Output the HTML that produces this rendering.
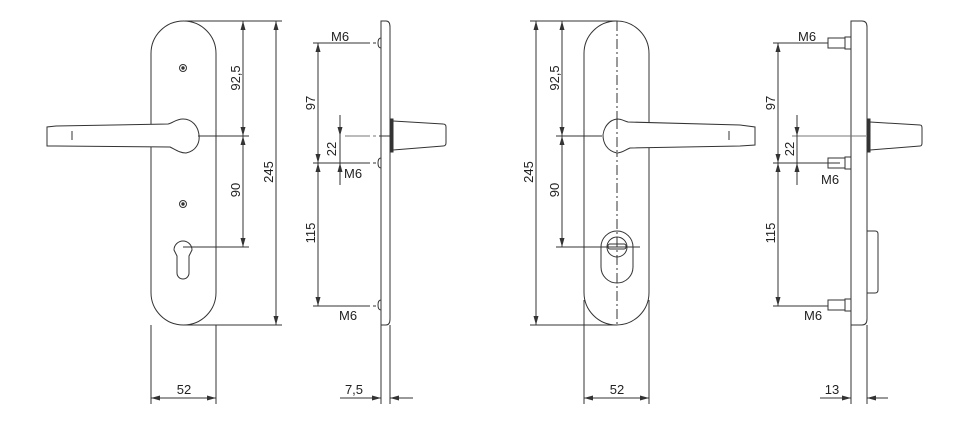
<!DOCTYPE html>
<html><head><meta charset="utf-8"><style>
html,body{margin:0;padding:0;background:#fff;}
svg{display:block;}
text{font-family:"Liberation Sans",sans-serif;font-size:13px;fill:#222;}
</style></head><body>
<svg width="976" height="432" viewBox="0 0 976 432" xmlns="http://www.w3.org/2000/svg">
<defs>
<marker id="a" markerWidth="9" markerHeight="6" refX="9" refY="3" orient="auto" markerUnits="userSpaceOnUse">
<path d="M0,0.5 L9,3 L0,5.5 z" fill="#333"/></marker>
</defs>
<g stroke="#333" stroke-width="1" fill="none">
<!-- ===== Drawing 1 front ===== -->
<path d="M151,53.5 A32.5,32.5 0 0 1 216,53.5 L216,292.5 A32.5,32.5 0 0 1 151,292.5 Z"/>
<circle cx="183" cy="68" r="3.5"/><circle cx="183" cy="68" r="1.2" fill="#333"/>
<circle cx="183" cy="204" r="3.5"/><circle cx="183" cy="204" r="1.2" fill="#333"/>
<path d="M174,250 A9,9 0 1 1 192,250 L189,256 L189,273 A6,6 0 0 1 177,273 L177,256 Z"/>
<!-- handle -->
<path d="M47,127 L47,146 L56,146 L170,147 C176,150 180,153 186,153 C196,151 200,143 199,135 C198,126 192,119 183,119 C176,119 173,123 168,124 L56,126 Z" fill="#fff"/>
<line x1="72" y1="131" x2="72" y2="140"/>
<!-- dims -->
<line x1="198" y1="136" x2="249" y2="136"/>
<line x1="183" y1="247" x2="249" y2="247"/>
<line x1="185" y1="21" x2="282" y2="21"/>
<line x1="183" y1="325" x2="282" y2="325"/>
<line x1="243" y1="29" x2="243" y2="21"/>
<line x1="243" y1="21" x2="243" y2="136" marker-end="url(#a)"/>
<line x1="243" y1="136" x2="243" y2="21" marker-end="url(#a)"/>
<line x1="243" y1="136" x2="243" y2="247" marker-end="url(#a)"/>
<line x1="243" y1="247" x2="243" y2="136" marker-end="url(#a)"/>
<line x1="276" y1="21" x2="276" y2="325" marker-end="url(#a)"/>
<line x1="276" y1="325" x2="276" y2="21" marker-end="url(#a)"/>
<line x1="151" y1="325" x2="151" y2="404"/>
<line x1="216" y1="325" x2="216" y2="404"/>
<line x1="151" y1="398" x2="216" y2="398" marker-end="url(#a)"/>
<line x1="216" y1="398" x2="151" y2="398" marker-end="url(#a)"/>

<!-- ===== Drawing 1 side ===== -->
<path d="M381,21 L386,21 Q390,21 390,27 L390,319 Q390,325 386,325 L381,325 Z"/>
<path d="M381,38 Q378,38 378,43 Q378,48 381,48"/>
<path d="M381,158 Q378,158 378,163 Q378,168 381,168"/>
<path d="M381,300 Q378,300 378,305 Q378,310 381,310"/>
<rect x="390.5" y="119" width="2.5" height="33" fill="#333"/>
<path d="M393,121 L443,124 Q446,124 446,127 L446,143 Q446,146 443,146 L393,150"/>
<line x1="381" y1="21" x2="381" y2="404"/><line x1="390" y1="325" x2="390" y2="404"/>
<line x1="313" y1="43" x2="370" y2="43"/><line x1="373" y1="43" x2="376" y2="43"/>
<line x1="313" y1="163" x2="370" y2="163"/><line x1="373" y1="163" x2="376" y2="163"/>
<line x1="313" y1="306" x2="370" y2="306"/><line x1="373" y1="306" x2="376" y2="306"/>
<line x1="345" y1="136" x2="370" y2="136" stroke="#777"/><line x1="373" y1="136" x2="376" y2="136" stroke="#777"/><line x1="379" y1="136" x2="391" y2="136"/>
<line x1="318" y1="43" x2="318" y2="163" marker-end="url(#a)"/>
<line x1="318" y1="163" x2="318" y2="43" marker-end="url(#a)"/>
<line x1="318" y1="163" x2="318" y2="306" marker-end="url(#a)"/>
<line x1="318" y1="306" x2="318" y2="163" marker-end="url(#a)"/>
<line x1="340" y1="115" x2="340" y2="136" marker-end="url(#a)"/>
<line x1="340" y1="185" x2="340" y2="163" marker-end="url(#a)"/>
<line x1="340" y1="136" x2="340" y2="163"/>
<line x1="340" y1="398" x2="381" y2="398" marker-end="url(#a)"/>
<line x1="413" y1="398" x2="390" y2="398" marker-end="url(#a)"/>

<!-- ===== Drawing 2 front ===== -->
<path d="M584,53.5 A32.5,32.5 0 0 1 649,53.5 L649,292.5 A32.5,32.5 0 0 1 584,292.5 Z"/>
<line x1="617" y1="21" x2="617" y2="325" stroke-dasharray="10,3,2,3"/>
<path d="M601,247 A16,16 0 0 1 633,247 L633,267 A16,16 0 0 1 601,267 Z"/>
<circle cx="617" cy="247" r="10"/>
<rect x="608" y="244" width="18" height="5" rx="2"/>
<path d="M755,127 L755,145 L740,146 L630,148 C625,150 622,153 617,153 C607,151 603,143 603,135 C604,127 609,120 617,119 C622,119 624,121 628,122 L740,125 Z" fill="#fff"/>
<line x1="729" y1="131" x2="729" y2="140"/>
<line x1="617" y1="119" x2="617" y2="153" stroke-dasharray="10,3,2,3"/>
<line x1="530" y1="21" x2="617" y2="21"/>
<line x1="530" y1="325" x2="617" y2="325"/>
<line x1="556" y1="136" x2="602" y2="136"/>
<line x1="556" y1="247" x2="640" y2="247"/>
<line x1="536" y1="21" x2="536" y2="325" marker-end="url(#a)"/>
<line x1="536" y1="325" x2="536" y2="21" marker-end="url(#a)"/>
<line x1="562" y1="21" x2="562" y2="136" marker-end="url(#a)"/>
<line x1="562" y1="136" x2="562" y2="21" marker-end="url(#a)"/>
<line x1="562" y1="136" x2="562" y2="247" marker-end="url(#a)"/>
<line x1="562" y1="247" x2="562" y2="136" marker-end="url(#a)"/>
<line x1="584" y1="300" x2="584" y2="404"/>
<line x1="649" y1="300" x2="649" y2="404"/>
<line x1="584" y1="398" x2="649" y2="398" marker-end="url(#a)"/>
<line x1="649" y1="398" x2="584" y2="398" marker-end="url(#a)"/>

<!-- ===== Drawing 2 side ===== -->
<path d="M851,21 L862,21 Q867,21 867,27 L867,319 Q867,325 862,325 L851,325 Z"/>
<line x1="851" y1="325" x2="851" y2="404"/><line x1="867" y1="325" x2="867" y2="404"/>
<rect x="828" y="38" width="17" height="10"/><rect x="845" y="37" width="6" height="12"/>
<rect x="828" y="158" width="17" height="10"/><rect x="845" y="157" width="6" height="12"/>
<rect x="828" y="300" width="17" height="10"/><rect x="845" y="299" width="6" height="12"/>
<path d="M867,231 L875,231 Q878,231 878,234 L878,290 Q878,293 875,293 L867,293"/>
<rect x="867.5" y="119" width="2.5" height="33" fill="#333"/>
<path d="M870,122 L920,125 Q922,125 922,128 L922,143 Q922,146 920,146 L870,150"/>
<line x1="773" y1="43" x2="828" y2="43"/>
<line x1="773" y1="163" x2="840" y2="163"/>
<line x1="773" y1="306" x2="828" y2="306"/>
<line x1="792" y1="136" x2="866" y2="136" stroke="#777"/>
<line x1="778" y1="43" x2="778" y2="163" marker-end="url(#a)"/>
<line x1="778" y1="163" x2="778" y2="43" marker-end="url(#a)"/>
<line x1="778" y1="163" x2="778" y2="306" marker-end="url(#a)"/>
<line x1="778" y1="306" x2="778" y2="163" marker-end="url(#a)"/>
<line x1="797" y1="115" x2="797" y2="136" marker-end="url(#a)"/>
<line x1="797" y1="185" x2="797" y2="163" marker-end="url(#a)"/>
<line x1="797" y1="136" x2="797" y2="163"/>
<line x1="820" y1="398" x2="851" y2="398" marker-end="url(#a)"/>
<line x1="888" y1="398" x2="867" y2="398" marker-end="url(#a)"/>
</g>
<!-- texts -->
<g>
<text x="184" y="394" text-anchor="middle">52</text>
<text x="617" y="394" text-anchor="middle">52</text>
<text x="354" y="394" text-anchor="middle">7,5</text>
<text x="832" y="394" text-anchor="middle">13</text>
<text transform="translate(240,78) rotate(-90)" text-anchor="middle">92,5</text>
<text transform="translate(240,190) rotate(-90)" text-anchor="middle">90</text>
<text transform="translate(273,172) rotate(-90)" text-anchor="middle">245</text>
<text transform="translate(559,78) rotate(-90)" text-anchor="middle">92,5</text>
<text transform="translate(559,190) rotate(-90)" text-anchor="middle">90</text>
<text transform="translate(533,172) rotate(-90)" text-anchor="middle">245</text>
<text transform="translate(315,103) rotate(-90)" text-anchor="middle">97</text>
<text transform="translate(315,233) rotate(-90)" text-anchor="middle">115</text>
<text transform="translate(336,149) rotate(-90)" text-anchor="middle">22</text>
<text transform="translate(775,103) rotate(-90)" text-anchor="middle">97</text>
<text transform="translate(775,233) rotate(-90)" text-anchor="middle">115</text>
<text transform="translate(794,149) rotate(-90)" text-anchor="middle">22</text>
<text x="331" y="41">M6</text>
<text x="344" y="178">M6</text>
<text x="339" y="320">M6</text>
<text x="798" y="41">M6</text>
<text x="821" y="184">M6</text>
<text x="804" y="320">M6</text>
</g>
</svg>
</body></html>
